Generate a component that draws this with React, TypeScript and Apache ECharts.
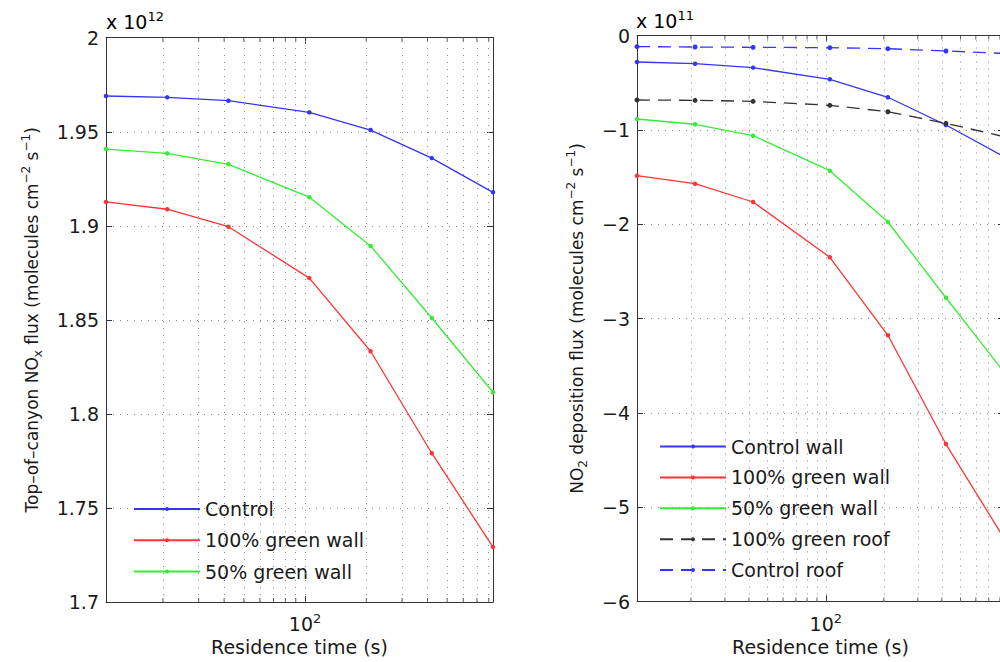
import React, { useEffect, useRef } from "react";
import * as echarts from "echarts";

// ---------- data ----------
const residenceTime = [10.5, 21, 42, 105, 210, 420, 840];
const xMin = 10.5;
const xMax = 840;
const gridLinesX = [20, 30, 40, 50, 60, 70, 80, 90, 100, 200, 300, 400, 500, 600, 700, 800];
const minorTicksX = [20, 30, 40, 50, 60, 70, 80, 90, 200, 300, 400, 500, 600, 700, 800];

// Left panel: top-of-canyon NOx flux (x 10^12)
const noxControl = [1.969, 1.9683, 1.9665, 1.9603, 1.9509, 1.936, 1.9178];
const nox100Wall = [1.9127, 1.9088, 1.8995, 1.8722, 1.8333, 1.7791, 1.7292];
const nox50Wall = [1.9408, 1.9385, 1.9327, 1.9152, 1.8893, 1.851, 1.8115];
const leftYMin = 1.7;
const leftYMax = 2;
const leftYStep = 0.05;

// Right panel: NO2 deposition flux (x 10^11)
const depControlWall = [-0.281, -0.299, -0.341, -0.464, -0.655, -0.949, -1.285];
const dep100Wall = [-1.486, -1.571, -1.765, -2.351, -3.178, -4.331, -5.329];
const dep50Wall = [-0.885, -0.941, -1.062, -1.433, -1.977, -2.78, -3.569];
const dep100Roof = [-0.684, -0.687, -0.698, -0.74, -0.808, -0.931, -1.072];
const depControlRoof = [-0.118, -0.122, -0.125, -0.129, -0.14, -0.164, -0.19];
const rightYMin = -6;
const rightYMax = 0;
const rightYStep = 1;

const leftLegend = ["Control", "100% green wall", "50% green wall"];
const rightLegend = ["Control wall", "100% green wall", "50% green wall", "100% green roof", "Control roof"];

// ---------- styles ----------
const FONT = '"DejaVu Sans", "Liberation Sans", sans-serif';
const TEXT = "#1a1a1a";
const AXIS = "#333333";
const GRID = "#8a8a8a";
const BLUE = "#3434ff";
const RED = "#ff3434";
const GREEN = "#34ee34";
const BLACK = "#333333";

const rich = {
  n: { fontFamily: FONT, fontSize: 19, lineHeight: 24, color: TEXT },
  sup: { fontFamily: FONT, fontSize: 13, lineHeight: 13, verticalAlign: "top", color: TEXT },
  sub: { fontFamily: FONT, fontSize: 13, lineHeight: 13, verticalAlign: "bottom", color: TEXT },
};

const titleRich = {
  n: { fontFamily: FONT, fontSize: 17, lineHeight: 24, color: TEXT },
  sup: { fontFamily: FONT, fontSize: 12, lineHeight: 13, verticalAlign: "top", color: TEXT },
  sub: { fontFamily: FONT, fontSize: 12, lineHeight: 13, verticalAlign: "bottom", color: TEXT },
};

const pairs = (ys: number[]) => residenceTime.map((x, i) => [x, ys[i]]);

function lineSeries(name: string, ys: number[], color: string, dashed: boolean, idx: number) {
  return {
    type: "line",
    name,
    data: pairs(ys),
    xAxisIndex: idx * 2,
    yAxisIndex: idx * 2,
    symbol: "circle",
    symbolSize: dashed ? 5 : 4.5,
    showSymbol: true,
    lineStyle: { color, width: 1.3, type: dashed ? [13, 8] : "solid" },
    itemStyle: { color },
    emphasis: { disabled: true },
    z: 3,
  };
}

function gridHelper(idx: number) {
  return {
    type: "line",
    data: [],
    xAxisIndex: idx * 2,
    yAxisIndex: idx * 2,
    silent: true,
    z: 1,
    markLine: {
      silent: true,
      symbol: ["none", "none"],
      label: { show: false },
      emphasis: { disabled: true },
      lineStyle: { color: GRID, type: [1, 6], width: 1 },
      data: gridLinesX.map((v) => ({ xAxis: v })),
    },
  };
}

function tickMarks(idx: number, yVal: number, down: boolean) {
  return {
    type: "scatter",
    xAxisIndex: idx * 2,
    yAxisIndex: idx * 2,
    data: minorTicksX.map((v) => [v, yVal]),
    symbol: "rect",
    symbolSize: [1, 4],
    symbolOffset: [0, down ? 2 : -2],
    itemStyle: { color: AXIS },
    silent: true,
    clip: false,
    z: 4,
  };
}

function xAxes(gridIndex: number) {
  const common = {
    type: "log",
    logBase: 10,
    gridIndex,
    min: xMin,
    max: xMax,
    axisLine: { show: true, onZero: false, lineStyle: { color: AXIS, width: 1 } },
    axisTick: { show: true, inside: true, length: 6, lineStyle: { color: AXIS } },
    splitLine: { show: false },
    minorTick: { show: false },
    minorSplitLine: { show: false },
  };
  return [
    {
      ...common,
      position: "bottom",
      axisLabel: {
        show: true,
        margin: 10,
        formatter: (v: number) => (Math.abs(v - 100) < 1e-6 ? "{n|10}{sup|2}" : ""),
        rich,
      },
      name: "Residence time (s)",
      nameLocation: "middle",
      nameGap: 33,
      nameMoveOverlap: false,
      nameTextStyle: { fontFamily: FONT, fontSize: 19, lineHeight: 24, color: TEXT },
    },
    { ...common, position: "top", axisLabel: { show: false } },
  ];
}

function yAxes(
  gridIndex: number,
  min: number,
  max: number,
  interval: number,
  fmt: (v: number) => string,
  title: string,
  nameGap: number
) {
  const common = {
    type: "value",
    gridIndex,
    min,
    max,
    interval,
    axisLine: { show: true, onZero: false, lineStyle: { color: AXIS, width: 1 } },
    axisTick: { show: true, inside: true, length: 6, lineStyle: { color: AXIS } },
  };
  return [
    {
      ...common,
      position: "left",
      axisLabel: { margin: 7, fontFamily: FONT, fontSize: 19, color: TEXT, formatter: fmt },
      splitLine: { show: true, lineStyle: { color: GRID, type: [1, 6], width: 1 } },
      name: title,
      nameLocation: "middle",
      nameRotate: 90,
      nameGap,
      nameMoveOverlap: false,
      nameTextStyle: { rich: titleRich, fontFamily: FONT, fontSize: 17, color: TEXT },
    },
    { ...common, position: "right", axisLabel: { show: false }, splitLine: { show: false } },
  ];
}

const legendCommon = {
  orient: "vertical",
  itemWidth: 66,
  itemHeight: 5,
  selectedMode: false,
  backgroundColor: "transparent",
  padding: 0,
  textStyle: { fontFamily: FONT, fontSize: 19, color: TEXT, lineHeight: 20 },
};

export default function App() {
  const ref = useRef<HTMLDivElement>(null);

  useEffect(() => {
    if (!ref.current) return;
    const chart = echarts.init(ref.current, null, { renderer: "svg" });

    const option: any = {
      animation: false,
      backgroundColor: "#ffffff",
      grid: [
        { left: 106, top: 37.7, width: 387, height: 564.3, outerBoundsMode: "none", containLabel: false },
        { left: 637, top: 35.5, width: 367, height: 566, outerBoundsMode: "none", containLabel: false },
      ],
      xAxis: [...xAxes(0), ...xAxes(1)],
      yAxis: [
        ...yAxes(
          0,
          leftYMin,
          leftYMax,
          leftYStep,
          (v: number) => String(+v.toFixed(2)),
          "{n|Top–of–canyon NO}{sub|x}{n| flux (molecules cm}{sup|−2}{n| s}{sup|−1}{n|)}",
          62
        ),
        ...yAxes(
          1,
          rightYMin,
          rightYMax,
          rightYStep,
          (v: number) => (v === 0 ? "0" : "−" + Math.abs(v)),
          "{n|NO}{sub|2}{n| deposition flux (molecules cm}{sup|−2}{n| s}{sup|−1}{n|)}",
          48
        ),
      ],
      legend: [
        { ...legendCommon, data: leftLegend, left: 133, top: 499, itemGap: 11.3 },
        { ...legendCommon, data: rightLegend, left: 659, top: 436.5, itemGap: 10.9 },
      ],
      graphic: [
        {
          type: "text",
          x: 106,
          y: 10,
          style: { text: "{n|x 10}{sup|12}", rich, verticalAlign: "top", align: "left" },
        },
        {
          type: "text",
          x: 636,
          y: 9,
          style: { text: "{n|x 10}{sup|11}", rich, verticalAlign: "top", align: "left" },
        },
      ],
      series: [
        gridHelper(0),
        gridHelper(1),
        tickMarks(0, leftYMin, false),
        tickMarks(0, leftYMax, true),
        tickMarks(1, rightYMin, false),
        tickMarks(1, rightYMax, true),
        lineSeries("Control", noxControl, BLUE, false, 0),
        lineSeries("100% green wall", nox100Wall, RED, false, 0),
        lineSeries("50% green wall", nox50Wall, GREEN, false, 0),
        lineSeries("Control wall", depControlWall, BLUE, false, 1),
        lineSeries("100% green wall", dep100Wall, RED, false, 1),
        lineSeries("50% green wall", dep50Wall, GREEN, false, 1),
        lineSeries("100% green roof", dep100Roof, BLACK, true, 1),
        lineSeries("Control roof", depControlRoof, BLUE, true, 1),
      ],
    };

    chart.setOption(option);
    return () => chart.dispose();
  }, []);

  return (
    <div
      ref={ref}
      style={{ position: "absolute", left: 0, top: 0, width: 1000, height: 662, background: "#fff" }}
    />
  );
}
